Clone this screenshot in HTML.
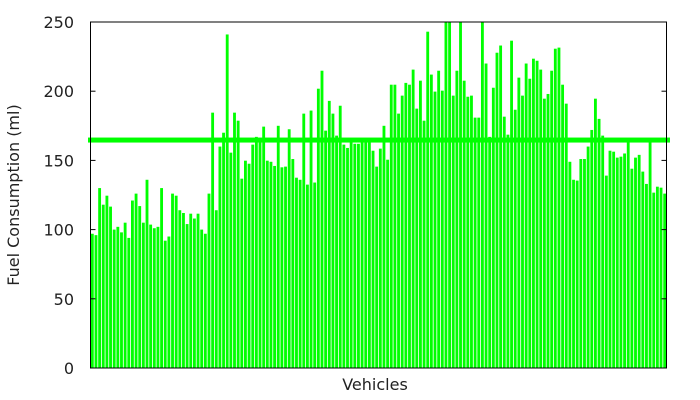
<!DOCTYPE html>
<html><head><meta charset="utf-8"><style>
html,body{margin:0;padding:0;background:#fff;}
svg{display:block;font-family:"DejaVu Sans","Liberation Sans",sans-serif;}
</style></head><body>
<svg id="chart" width="700" height="400">
<defs><clipPath id="pc"><rect x="90.5" y="22" width="576" height="346"/></clipPath></defs>
<g id="bars" clip-path="url(#pc)"></g>
<g id="axes"></g>
</svg>
<script>
const vehicles = [];
const consumption = [97,96,130,118,124.5,116.6,100,102,98,105,94,121,126,117,105,136,103.6,101,102,130,92,95,126,124.5,114,112,104,111.5,108,111.5,100,97,126,184.5,114,160,170,241,155.6,184.5,
178.7,136.8,149.8,147.6,161.4,167,166,174.4,149.8,149,146,175,145,145.5,172.5,151,137.5,136,183.8,132.5,186,134,201.8,214.8,171.5,193,183.8,167.9,189.5,161.4,159,163,162,162,164,164,164,157,145.5,158.5,
175,150.5,204.7,204.7,183.8,196.8,206,204.7,215.6,187.4,207.6,178.7,243,212,199.7,214.8,200.4,255,255,196.8,214.8,255,207.6,196,196.8,180.9,180.9,255,220,167,202.5,227.8,233,181.6,168.6,236.5,186.6,209.8,196.8,
220,209,223.5,222,215.6,194.6,198,214.8,230.7,231.5,204.7,191,149,136,135.4,151,151,160,172,194.6,180,167.9,139,157,156.3,152,152.7,155,163.3,144,152,154,141.9,133,163,126.7,131,130.3,126];
for (let i = 0; i < consumption.length; i++) vehicles.push(i + 1);
const meanValue = [164.7];
const yTicks = [0,50,100,150,200,250];

const NS = "http://www.w3.org/2000/svg";
const L = 90.5, R = 666.5, T = 22, B = 368;
const yMax = 250;
function y(v){ return B - (v / yMax) * (B - T); }
const slot = (R - L) / vehicles.length;
function x(i){ return L + i * slot; }
function mk(tag, attrs, parent){
  const e = document.createElementNS(NS, tag);
  for (const k in attrs) e.setAttribute(k, attrs[k]);
  parent.appendChild(e); return e;
}
const bars = document.getElementById('bars');
const axes = document.getElementById('axes');
consumption.forEach((v, i) => {
  const r = mk('rect', {x: x(i) + 0.4, y: y(v), width: slot * 0.78, height: B - y(v), fill: '#00ff00'}, bars);
  
  
});
const ml = mk('rect', {x: 88, y: y(meanValue[0]) - 2.5, width: 582, height: 5, fill: '#00ff00'}, axes);


const frame = mk('rect', {x: L, y: T, width: R - L, height: B - T, fill: 'none', stroke: '#000', 'stroke-width': 1}, axes);


yTicks.forEach(t => {
  const yy = y(t);
  mk('line', {x1: L, x2: L + 5, y1: yy, y2: yy, stroke: '#000'}, axes);
  mk('line', {x1: R, x2: R - 5, y1: yy, y2: yy, stroke: '#000'}, axes);
  const tx = mk('text', {x: 74, y: yy + 6, 'text-anchor': 'end', 'font-size': 16, fill: '#222'}, axes);
  tx.textContent = t;
  
  
});
const yt = mk('text', {x: 0, y: 0, transform: 'translate(19,195) rotate(-90)', 'text-anchor': 'middle', 'font-size': 16, fill: '#222'}, axes);
yt.textContent = 'Fuel Consumption (ml)';


const xt = mk('text', {x: 375, y: 390, 'text-anchor': 'middle', 'font-size': 16, fill: '#222'}, axes);
xt.textContent = 'Vehicles';


</script>
</body></html>
